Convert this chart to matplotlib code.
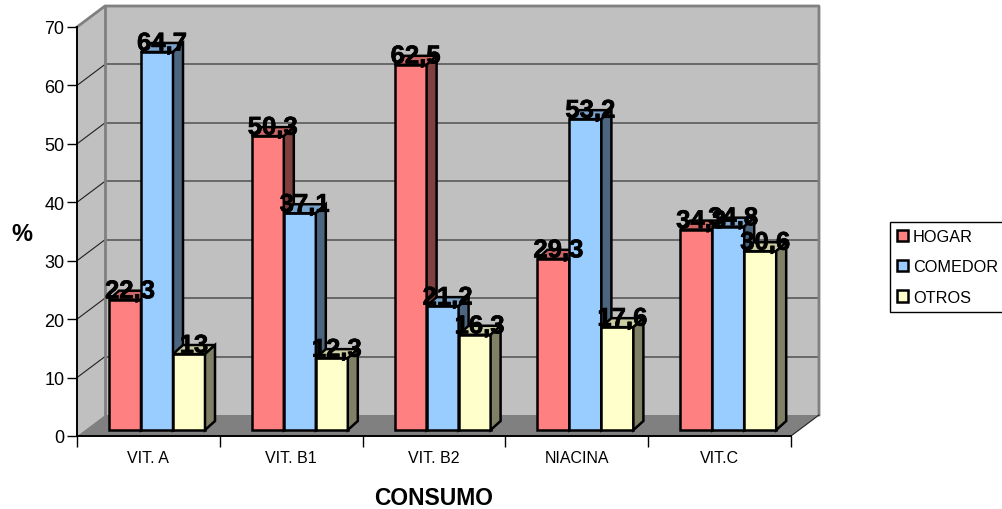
import matplotlib
matplotlib.use('Agg')
import matplotlib.pyplot as plt
import matplotlib.patheffects as pe
from matplotlib.patches import Polygon, Patch

plt.rcParams['font.family'] = ['Liberation Sans', 'DejaVu Sans']

# consumption per vitamin
categories = ['VIT. A', 'VIT. B1', 'VIT. B2', 'NIACINA', 'VIT.C']
hogar = [22.3, 50.3, 62.5, 29.3, 34.3]
comedor = [64.7, 37.1, 21.2, 53.2, 34.8]
otros = [13, 12.3, 16.3, 17.6, 30.6]
series_names = ['HOGAR', 'COMEDOR', 'OTROS']
y_ticks = [0, 10, 20, 30, 40, 50, 60, 70]

front = ['#FF8080', '#99CCFF', '#FFFFCC']
top = ['#CC6666', '#7AA3CC', '#CCCCA3']
side = ['#804040', '#4D6680', '#808066']
wall = '#C0C0C0'
frame = '#808080'

# front plane of the box, in pixels
W, H = 1002, 510
left, right, y_bottom, y_top = 77, 791, 437, 28
fig = plt.figure(figsize=(W / 100, H / 100), dpi=100)
ax = fig.add_axes([left / W, 1 - y_bottom / H, (right - left) / W, (y_bottom - y_top) / H])
ax.set_xlim(0, 5)
ax.set_ylim(0, 70)
ax.patch.set_visible(False)

ux = (right - left) / 5   # pixels per category
uy = (y_bottom - y_top) / 70   # pixels per percent

# walls and floor, pushed back by the chart depth
wall_dx = 28 / ux
wall_dy = 21 / uy
ax.add_patch(Polygon([(0, 0), (0, 70), (wall_dx, 70 + wall_dy), (wall_dx, wall_dy)],
                     fc=wall, ec='none', clip_on=False, zorder=0))
ax.add_patch(Polygon([(wall_dx, wall_dy), (wall_dx, 70 + wall_dy), (5 + wall_dx, 70 + wall_dy), (5 + wall_dx, wall_dy)],
                     fc=wall, ec='none', clip_on=False, zorder=0))
ax.add_patch(Polygon([(0, 0), (wall_dx, wall_dy), (5 + wall_dx, wall_dy), (5, 0)],
                     fc=frame, ec='none', clip_on=False, zorder=0.5))

for v in y_ticks[1:-1]:
    ax.plot([wall_dx, 5 + wall_dx], [v + wall_dy, v + wall_dy], color='#505050', lw=1.1, clip_on=False, zorder=1)
    ax.plot([0, wall_dx], [v, v + wall_dy], color='#202020', lw=0.8, clip_on=False, zorder=1)

ax.plot([0, wall_dx, 5 + wall_dx, 5 + wall_dx], [70, 70 + wall_dy, 70 + wall_dy, wall_dy],
        color=frame, lw=2.0, clip_on=False, zorder=1.5)
ax.plot([wall_dx, wall_dx], [wall_dy, 70 + wall_dy], color=frame, lw=2.0, clip_on=False, zorder=1.5)
ax.plot([5, 5 + wall_dx], [0, wall_dy], color='#202020', lw=0.8, clip_on=False, zorder=1.5)

# bars with their top and side faces
bar_w = 32 / ux
base = 6 / uy
depth_x = 10 / ux
depth_y = 9 / uy
series = [hogar, comedor, otros]
for j, vals in enumerate(series):
    xs = [i + bar_w * (j + 1.5) for i in range(len(categories))]
    ax.bar(xs, vals, width=bar_w, bottom=base, color=front[j], edgecolor='black', linewidth=1.8,
           clip_on=False, zorder=3 + j)
    for x, v in zip(xs, vals):
        x0, x1 = x - bar_w / 2, x + bar_w / 2
        y1 = v + base
        ax.add_patch(Polygon([(x0, y1), (x0 + depth_x, y1 + depth_y), (x1 + depth_x, y1 + depth_y), (x1, y1)],
                             fc=top[j], ec='black', lw=1.8, clip_on=False, zorder=3 + j))
        ax.add_patch(Polygon([(x1, base), (x1, y1), (x1 + depth_x, y1 + depth_y), (x1 + depth_x, base + depth_y)],
                             fc=side[j], ec='black', lw=1.8, clip_on=False, zorder=3 + j))

# value labels over everything, decimal comma
for j, vals in enumerate(series):
    for i, v in enumerate(vals):
        x = i + bar_w * (j + 1.5) + depth_x / 2
        ax.text(x, v + base + 0.25, str(v).replace('.', ','), ha='center', va='baseline',
                fontsize=18.5, fontweight='bold', color='black', clip_on=False, zorder=10,
                path_effects=[pe.withStroke(linewidth=0.5, foreground='black')])

for s in ['top', 'right']:
    ax.spines[s].set_visible(False)
for s in ['left', 'bottom']:
    ax.spines[s].set_linewidth(1.4)
    ax.spines[s].set_zorder(2)

ax.set_yticks(y_ticks)
ax.tick_params(axis='y', labelsize=13, length=7, width=1.0, pad=2)
ax.set_xticks(range(6))
ax.set_xticklabels([])
ax.set_xticks([i + 0.5 for i in range(5)], categories, minor=True)
ax.tick_params(axis='x', which='major', length=8, width=1.0)
ax.tick_params(axis='x', which='minor', length=0, labelsize=11.5, pad=10)

ax.set_xlabel('CONSUMO', fontsize=16.5, fontweight='bold')
ax.xaxis.set_label_coords(0.5, -0.123)
ax.set_ylabel('%', fontsize=17, fontweight='bold', rotation=0)
ax.yaxis.set_label_coords(-0.077, 0.468)

handles = [Patch(fc=front[j], ec='black', lw=1.8, label=series_names[j]) for j in range(3)]
leg = fig.legend(handles=handles, loc='upper left', bbox_to_anchor=(890 / W, 1 - 223 / H), borderaxespad=0,
                 fontsize=11.7, fancybox=False, framealpha=1, edgecolor='black', handlelength=0.68,
                 handleheight=0.68, handletextpad=0.3, labelspacing=0.95, borderpad=0.42)
leg.get_frame().set_linewidth(1.0)

plt.savefig('out.png', dpi=100)
